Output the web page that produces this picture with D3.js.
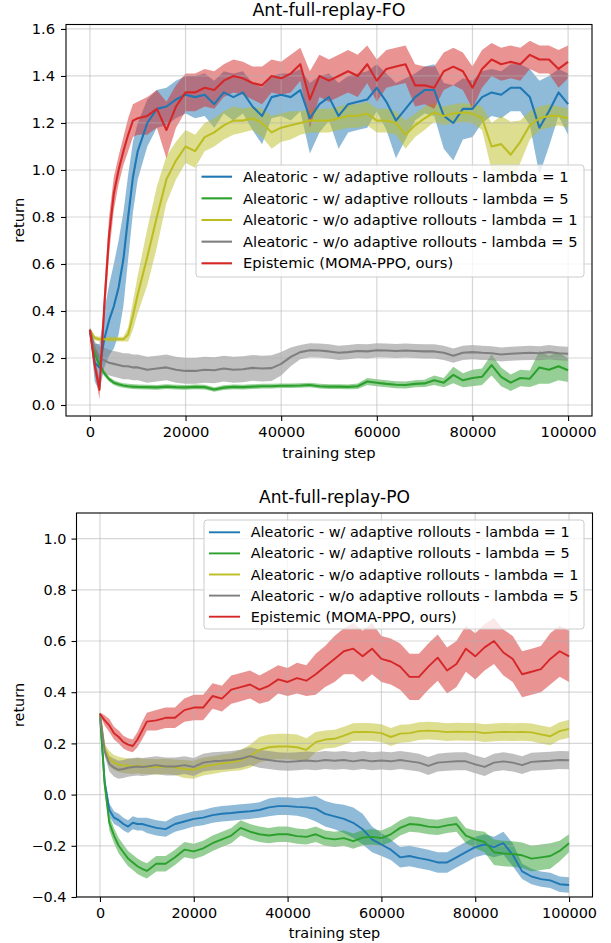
<!DOCTYPE html>
<html>
<head>
<meta charset="utf-8">
<script src="https://cdn.jsdelivr.net/npm/d3@7"></script>
<style>
body { margin: 0; background: #fff; }
svg { display: block; font-family: "DejaVu Sans", sans-serif; }
</style>
</head>
<body>
<svg width="611" height="943"></svg>
<script>
// training steps shared by every curve
var steps = [0,1000,2000,3000,4000,5000,6000,7000,8000,9000,10000,
  12000,14000,16000,18000,20000,22000,24000,26000,28000,30000,
  32000,34000,36000,38000,40000,42000,44000,46000,48000,50000,
  52000,54000,56000,58000,60000,62000,64000,66000,68000,70000,
  72000,74000,76000,78000,80000,82000,84000,86000,88000,90000,
  92000,94000,96000,98000,100000];

var seriesNames = [
  "Aleatoric - w/ adaptive rollouts - lambda = 1",
  "Aleatoric - w/ adaptive rollouts - lambda = 5",
  "Aleatoric - w/o adaptive rollouts - lambda = 1",
  "Aleatoric - w/o adaptive rollouts - lambda = 5",
  "Epistemic (MOMA-PPO, ours)"
];
var seriesColors = ["#1f77b4", "#2ca02c", "#bcbd22", "#7f7f7f", "#d62728"];

var xTicks = [0, 20000, 40000, 60000, 80000, 100000];
var foTicksY = [0, 0.2, 0.4, 0.6, 0.8, 1.0, 1.2, 1.4, 1.6];
var poTicksY = [-0.4, -0.2, 0, 0.2, 0.4, 0.6, 0.8, 1.0];

// ---- Ant-full-replay-FO ----
var foBlue = [0.32,0.18,0.16,0.28,0.36,0.42,0.50,0.62,0.80,0.97,1.08,
  1.20,1.26,1.27,1.30,1.32,1.31,1.32,1.28,1.33,1.31,
  1.33,1.27,1.23,1.31,1.32,1.31,1.34,1.22,1.28,1.31,
  1.23,1.28,1.29,1.30,1.35,1.29,1.21,1.26,1.31,1.34,
  1.34,1.23,1.20,1.26,1.26,1.31,1.33,1.32,1.35,1.35,
  1.31,1.18,1.25,1.33,1.28];
var foBlueSd = [0.01,0.08,0.10,0.12,0.15,0.18,0.2,0.2,0.18,0.15,0.12,
  0.1,0.08,0.08,0.08,0.08,0.09,0.09,0.1,0.09,0.1,
  0.09,0.1,0.12,0.09,0.09,0.1,0.09,0.15,0.12,0.1,
  0.14,0.12,0.12,0.12,0.1,0.12,0.16,0.13,0.1,0.1,
  0.11,0.14,0.16,0.13,0.12,0.11,0.1,0.1,0.1,0.1,
  0.12,0.2,0.15,0.1,0.13];

var foGreen = [0.32,0.22,0.17,0.135,0.11,0.095,0.088,0.083,0.08,0.078,0.077,
  0.076,0.075,0.078,0.076,0.075,0.077,0.076,0.066,0.074,0.077,
  0.076,0.078,0.08,0.08,0.082,0.082,0.083,0.085,0.08,0.078,
  0.078,0.077,0.08,0.10,0.095,0.09,0.086,0.085,0.09,0.092,
  0.105,0.095,0.128,0.105,0.115,0.12,0.17,0.12,0.095,0.115,
  0.112,0.16,0.15,0.165,0.148];
var foGreenSd = [0.005,0.015,0.015,0.012,0.01,0.01,0.01,0.01,0.01,0.01,0.01,
  0.01,0.01,0.01,0.01,0.01,0.01,0.01,0.01,0.01,0.01,
  0.01,0.01,0.01,0.01,0.01,0.01,0.01,0.01,0.01,0.01,
  0.01,0.01,0.012,0.015,0.015,0.015,0.015,0.015,0.015,0.015,
  0.02,0.02,0.035,0.03,0.035,0.035,0.045,0.04,0.035,0.035,
  0.035,0.07,0.06,0.06,0.05];

var foOlive = [0.32,0.285,0.28,0.28,0.28,0.28,0.28,0.28,0.30,0.38,0.47,
  0.63,0.80,0.96,1.04,1.10,1.08,1.14,1.16,1.19,1.21,
  1.21,1.22,1.20,1.16,1.18,1.19,1.20,1.21,1.21,1.21,
  1.22,1.23,1.23,1.24,1.21,1.21,1.20,1.15,1.19,1.22,
  1.245,1.23,1.24,1.245,1.24,1.22,1.10,1.11,1.065,1.12,
  1.19,1.22,1.23,1.23,1.22];
var foOliveSd = [0.005,0.01,0.01,0.01,0.01,0.01,0.01,0.01,0.03,0.06,0.08,
  0.12,0.13,0.1,0.08,0.07,0.07,0.06,0.06,0.06,0.06,
  0.05,0.05,0.06,0.07,0.06,0.06,0.05,0.05,0.05,0.05,
  0.05,0.05,0.05,0.05,0.05,0.05,0.05,0.06,0.05,0.05,
  0.04,0.04,0.04,0.04,0.04,0.05,0.1,0.12,0.14,0.09,
  0.06,0.05,0.05,0.04,0.04];

var foGray = [0.32,0.24,0.20,0.19,0.18,0.175,0.17,0.165,0.165,0.16,0.16,
  0.15,0.155,0.16,0.15,0.145,0.145,0.15,0.148,0.155,0.15,
  0.152,0.158,0.155,0.157,0.175,0.205,0.225,0.233,0.232,0.228,
  0.222,0.225,0.23,0.228,0.233,0.232,0.23,0.232,0.23,0.228,
  0.228,0.222,0.21,0.222,0.225,0.222,0.22,0.215,0.218,0.22,
  0.222,0.22,0.225,0.22,0.218];
var foGraySd = [0.01,0.03,0.05,0.055,0.055,0.055,0.055,0.055,0.055,0.055,0.055,
  0.055,0.055,0.055,0.055,0.055,0.055,0.055,0.055,0.055,0.055,
  0.055,0.055,0.055,0.055,0.05,0.04,0.03,0.03,0.03,0.03,
  0.03,0.03,0.03,0.03,0.03,0.03,0.03,0.03,0.03,0.03,
  0.03,0.03,0.03,0.03,0.03,0.03,0.03,0.03,0.03,0.03,
  0.03,0.03,0.03,0.03,0.03];

var foRed = [0.32,0.17,0.065,0.42,0.72,0.90,1.00,1.08,1.15,1.21,1.22,
  1.23,1.26,1.17,1.27,1.33,1.33,1.35,1.34,1.38,1.40,
  1.39,1.37,1.36,1.40,1.39,1.41,1.45,1.30,1.40,1.38,
  1.40,1.42,1.40,1.45,1.38,1.43,1.44,1.45,1.36,1.36,
  1.35,1.42,1.44,1.42,1.35,1.43,1.47,1.45,1.46,1.45,
  1.49,1.47,1.47,1.43,1.46];
var foRedSd = [0.005,0.03,0.04,0.07,0.08,0.07,0.06,0.06,0.07,0.07,0.07,
  0.08,0.08,0.12,0.09,0.08,0.08,0.08,0.08,0.07,0.07,
  0.07,0.07,0.08,0.07,0.07,0.08,0.07,0.12,0.09,0.09,
  0.09,0.09,0.09,0.08,0.09,0.08,0.08,0.08,0.09,0.08,
  0.09,0.08,0.08,0.08,0.09,0.08,0.07,0.07,0.07,0.07,
  0.06,0.06,0.06,0.08,0.07];

// ---- Ant-full-replay-PO ----
var poBlue = [0.316,0.05,-0.06,-0.09,-0.1,-0.115,-0.125,-0.11,-0.115,-0.115,-0.12,
  -0.13,-0.135,-0.115,-0.105,-0.095,-0.09,-0.08,-0.075,-0.072,-0.068,
  -0.065,-0.06,-0.05,-0.045,-0.045,-0.048,-0.05,-0.055,-0.075,-0.085,
  -0.095,-0.11,-0.135,-0.175,-0.195,-0.215,-0.245,-0.24,-0.248,-0.255,
  -0.265,-0.265,-0.245,-0.225,-0.205,-0.195,-0.205,-0.19,-0.235,-0.3,
  -0.32,-0.33,-0.335,-0.35,-0.353];
var poBlueSd = [0.005,0.02,0.025,0.025,0.025,0.025,0.025,0.025,0.025,0.025,0.03,
  0.03,0.03,0.03,0.03,0.03,0.03,0.03,0.03,0.03,0.03,
  0.03,0.03,0.035,0.035,0.035,0.035,0.04,0.05,0.05,0.05,
  0.055,0.06,0.06,0.05,0.045,0.04,0.04,0.04,0.04,0.04,
  0.04,0.04,0.04,0.04,0.04,0.04,0.04,0.045,0.045,0.03,
  0.03,0.03,0.03,0.03,0.03];

var poGreen = [0.316,0.04,-0.11,-0.16,-0.2,-0.225,-0.25,-0.265,-0.28,-0.29,-0.298,
  -0.27,-0.27,-0.245,-0.215,-0.222,-0.21,-0.19,-0.175,-0.16,-0.13,
  -0.145,-0.155,-0.16,-0.155,-0.155,-0.162,-0.165,-0.155,-0.17,-0.175,
  -0.17,-0.182,-0.168,-0.165,-0.17,-0.155,-0.13,-0.115,-0.118,-0.125,
  -0.128,-0.12,-0.115,-0.16,-0.175,-0.185,-0.225,-0.23,-0.232,-0.237,
  -0.25,-0.245,-0.24,-0.22,-0.19];
var poGreenSd = [0.005,0.02,0.03,0.03,0.03,0.03,0.03,0.03,0.03,0.03,0.03,
  0.03,0.03,0.03,0.03,0.03,0.03,0.03,0.03,0.03,0.03,
  0.03,0.03,0.03,0.03,0.03,0.03,0.03,0.03,0.03,0.03,
  0.03,0.03,0.03,0.03,0.03,0.03,0.03,0.03,0.03,0.03,
  0.03,0.03,0.03,0.03,0.035,0.04,0.05,0.05,0.05,0.05,
  0.05,0.05,0.05,0.04,0.035];

var poOlive = [0.316,0.18,0.14,0.125,0.118,0.114,0.112,0.11,0.113,0.11,0.11,
  0.108,0.11,0.107,0.10,0.097,0.11,0.115,0.122,0.127,0.135,
  0.15,0.175,0.185,0.188,0.188,0.185,0.175,0.205,0.215,0.218,
  0.23,0.244,0.245,0.244,0.24,0.225,0.238,0.24,0.248,0.25,
  0.248,0.244,0.246,0.245,0.245,0.24,0.243,0.245,0.244,0.245,
  0.243,0.235,0.228,0.248,0.257];
var poOliveSd = [0.005,0.02,0.03,0.03,0.03,0.03,0.03,0.03,0.03,0.03,0.03,
  0.03,0.03,0.03,0.035,0.035,0.035,0.035,0.035,0.035,0.04,
  0.045,0.05,0.05,0.05,0.05,0.05,0.045,0.04,0.035,0.035,
  0.035,0.035,0.035,0.035,0.035,0.035,0.035,0.035,0.035,0.035,
  0.035,0.035,0.035,0.035,0.035,0.035,0.035,0.035,0.035,0.035,
  0.035,0.035,0.035,0.035,0.035];

var poGray = [0.316,0.17,0.12,0.105,0.097,0.1,0.105,0.108,0.11,0.108,0.11,
  0.115,0.11,0.11,0.115,0.108,0.125,0.13,0.132,0.135,0.14,
  0.15,0.14,0.135,0.13,0.128,0.13,0.133,0.13,0.135,0.132,
  0.135,0.13,0.135,0.13,0.133,0.13,0.135,0.13,0.125,0.112,
  0.125,0.128,0.13,0.13,0.118,0.108,0.125,0.13,0.125,0.115,
  0.128,0.13,0.132,0.135,0.134];
var poGraySd = [0.005,0.02,0.03,0.035,0.035,0.035,0.035,0.035,0.035,0.035,0.035,
  0.035,0.035,0.035,0.035,0.035,0.035,0.035,0.035,0.035,0.035,
  0.035,0.035,0.035,0.035,0.035,0.035,0.035,0.035,0.035,0.035,
  0.035,0.035,0.035,0.035,0.035,0.035,0.035,0.035,0.035,0.035,
  0.035,0.035,0.035,0.035,0.035,0.035,0.035,0.035,0.035,0.035,
  0.035,0.035,0.035,0.035,0.035];

var poRed = [0.316,0.29,0.27,0.24,0.225,0.205,0.195,0.19,0.215,0.25,0.285,
  0.29,0.30,0.30,0.33,0.34,0.34,0.385,0.375,0.41,0.42,
  0.43,0.41,0.425,0.45,0.44,0.455,0.445,0.47,0.50,0.53,
  0.56,0.57,0.54,0.57,0.53,0.52,0.50,0.46,0.46,0.50,
  0.535,0.485,0.51,0.57,0.54,0.575,0.6,0.555,0.53,0.47,
  0.48,0.49,0.53,0.56,0.54];
var poRedSd = [0.005,0.02,0.025,0.025,0.025,0.025,0.025,0.025,0.03,0.035,0.035,
  0.04,0.04,0.04,0.045,0.05,0.05,0.05,0.05,0.055,0.055,
  0.055,0.055,0.06,0.055,0.055,0.06,0.06,0.08,0.08,0.09,
  0.09,0.1,0.1,0.1,0.09,0.09,0.09,0.09,0.09,0.09,
  0.09,0.09,0.09,0.09,0.09,0.09,0.09,0.09,0.09,0.09,
  0.09,0.09,0.1,0.1,0.1];

var svg = d3.select("svg");
var fmtY = d3.format(".1f");

function drawPanel(p) {
  var x = d3.scaleLinear().domain([-5000, 105000]).range([p.left, p.right]);
  var y = d3.scaleLinear().domain(p.ydom).range([p.bottom, p.top]);
  var g = svg.append("g");

  g.append("clipPath").attr("id", p.id)
    .append("rect")
    .attr("x", p.left).attr("y", p.top)
    .attr("width", p.right - p.left).attr("height", p.bottom - p.top);

  var rows = p.series.map(function (s) {
    return steps.map(function (st, i) {
      return {s: st, m: s.mean[i], lo: s.mean[i] - s.sd[i], hi: s.mean[i] + s.sd[i]};
    });
  });

  var area = d3.area()
    .x(function (d) { return x(d.s); })
    .y0(function (d) { return y(d.lo); })
    .y1(function (d) { return y(d.hi); });
  var line = d3.line()
    .x(function (d) { return x(d.s); })
    .y(function (d) { return y(d.m); });

  var plot = g.append("g").attr("clip-path", "url(#" + p.id + ")");

  // bands first (matplotlib collections sit under the lines)
  plot.selectAll("path.band").data(rows).enter().append("path")
    .attr("class", "band")
    .attr("d", area)
    .attr("fill", function (d, i) { return seriesColors[i]; })
    .attr("fill-opacity", 0.5)
    .attr("stroke", "none");

  // grid
  var grid = plot.append("g");
  grid.selectAll("line.gx").data(xTicks).enter().append("line")
    .attr("x1", function (d) { return x(d); }).attr("x2", function (d) { return x(d); })
    .attr("y1", p.top).attr("y2", p.bottom);
  grid.selectAll("line.gy").data(p.yticks).enter().append("line")
    .attr("y1", function (d) { return y(d); }).attr("y2", function (d) { return y(d); })
    .attr("x1", p.left).attr("x2", p.right);
  grid.selectAll("line").attr("stroke", "#b0b0b0").attr("stroke-opacity", 0.5).attr("stroke-width", 1.2);

  plot.selectAll("path.mean").data(rows).enter().append("path")
    .attr("class", "mean")
    .attr("d", line)
    .attr("fill", "none")
    .attr("stroke", function (d, i) { return seriesColors[i]; })
    .attr("stroke-width", p.lw)
    .attr("stroke-linejoin", "round");

  // axes
  var gx = g.append("g")
    .attr("transform", "translate(0," + p.bottom + ")")
    .call(d3.axisBottom(x).tickValues(xTicks).tickFormat(d3.format("d")).tickSize(5).tickPadding(p.xpad));
  var gy = g.append("g")
    .attr("transform", "translate(" + p.left + ",0)")
    .call(d3.axisLeft(y).tickValues(p.yticks).tickFormat(fmtY).tickSize(5).tickPadding(p.ypad));
  [gx, gy].forEach(function (a) {
    a.select(".domain").remove();
    a.selectAll("text").attr("font-size", p.fs + "px").attr("fill", "#000")
      .attr("font-family", "DejaVu Sans");
    a.selectAll("line").attr("stroke", "#000").attr("stroke-width", 1.1);
  });

  g.append("rect")
    .attr("x", p.left).attr("y", p.top)
    .attr("width", p.right - p.left).attr("height", p.bottom - p.top)
    .attr("fill", "none").attr("stroke", "#000").attr("stroke-width", 1.1);

  g.append("text")
    .attr("x", (p.left + p.right) / 2).attr("y", p.titleY)
    .attr("text-anchor", "middle").attr("font-size", p.tfs + "px")
    .text(p.title);
  g.append("text")
    .attr("x", (p.left + p.right) / 2).attr("y", p.xlabelY)
    .attr("text-anchor", "middle").attr("font-size", p.fs + "px")
    .text("training step");
  g.append("text")
    .attr("transform", "translate(" + p.ylabelX + "," + ((p.top + p.bottom) / 2) + ") rotate(-90)")
    .attr("text-anchor", "middle").attr("font-size", p.fs + "px")
    .text("return");

  // legend
  var lg = g.append("g");
  lg.append("rect")
    .attr("x", p.leg.x).attr("y", p.leg.y)
    .attr("width", p.leg.w).attr("height", p.leg.h)
    .attr("rx", 3)
    .attr("fill", "#fff").attr("fill-opacity", 0.8)
    .attr("stroke", "#cccccc").attr("stroke-width", 1);
  var items = lg.selectAll("g.item").data(seriesNames).enter().append("g")
    .attr("transform", function (d, i) { return "translate(0," + (p.leg.row0 + i * p.leg.dy) + ")"; });
  items.append("line")
    .attr("x1", p.leg.lx0).attr("x2", p.leg.lx1)
    .attr("stroke", function (d, i) { return seriesColors[i]; })
    .attr("stroke-width", p.lw);
  items.append("text")
    .attr("x", p.leg.tx).attr("y", 0)
    .attr("dy", "0.35em")
    .attr("font-size", p.fs + "px")
    .text(function (d) { return d; });
}

drawPanel({
  id: "clipFO", title: "Ant-full-replay-FO",
  left: 66, right: 592, top: 24.5, bottom: 416,
  ydom: [-0.0468, 1.619], yticks: foTicksY,
  fs: 14.7, tfs: 17.4, lw: 2.1, xpad: 6, ypad: 6,
  titleY: 16, xlabelY: 458, ylabelX: 24,
  series: [
    {mean: foBlue, sd: foBlueSd}, {mean: foGreen, sd: foGreenSd},
    {mean: foOlive, sd: foOliveSd}, {mean: foGray, sd: foGraySd},
    {mean: foRed, sd: foRedSd}
  ],
  leg: {x: 196, y: 165, w: 388, h: 112, row0: 176.7, dy: 21.65, lx0: 201.5, lx1: 232, tx: 243}
});

drawPanel({
  id: "clipPO", title: "Ant-full-replay-PO",
  left: 76.5, right: 592.5, top: 513, bottom: 897,
  ydom: [-0.4, 1.1], yticks: poTicksY,
  fs: 14.4, tfs: 17.1, lw: 1.9, xpad: 6, ypad: 5,
  titleY: 503, xlabelY: 938, ylabelX: 24,
  series: [
    {mean: poBlue, sd: poBlueSd}, {mean: poGreen, sd: poGreenSd},
    {mean: poOlive, sd: poOliveSd}, {mean: poGray, sd: poGraySd},
    {mean: poRed, sd: poRedSd}
  ],
  leg: {x: 204, y: 520, w: 380, h: 109, row0: 532.3, dy: 21.1, lx0: 209, lx1: 240, tx: 250.7}
});
</script>
</body>
</html>
